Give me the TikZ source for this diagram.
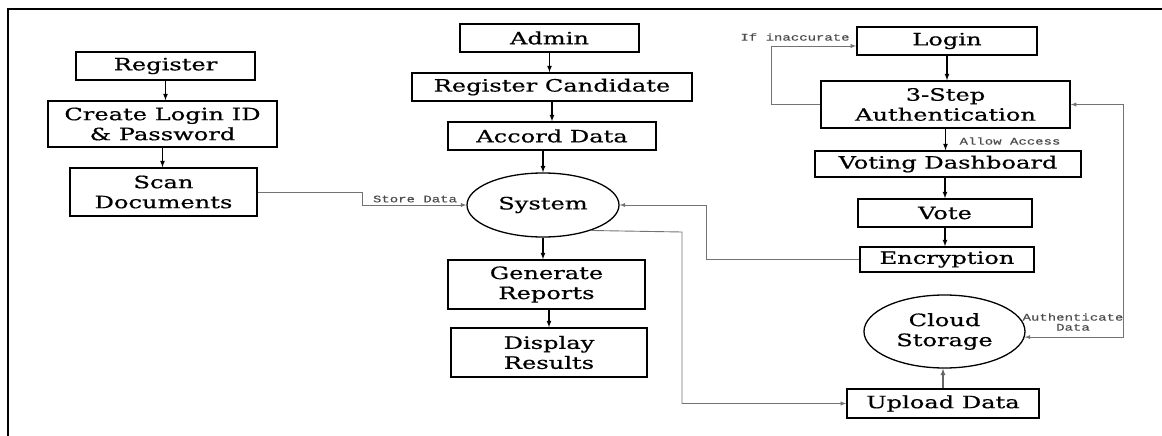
\documentclass[tikz,border=0pt]{standalone}
\usepackage{fontspec}
\setmainfont{DejaVu Serif}[FakeStretch=1.42,FakeBold=0.6]
\setmonofont{Liberation Mono}[FakeStretch=1.4,FakeBold=0.4]
\usetikzlibrary{calc,positioning,arrows,shapes}

\begin{document}
\begin{tikzpicture}[x=1pt,y=-1pt,>=latex,
  blk/.style={draw,line width=1.6pt,align=center,inner sep=0pt,font=\fontsize{17}{20}\selectfont},
  circ/.style={draw,ellipse,line width=1.3pt,align=center,inner sep=0pt,font=\fontsize{17}{20}\selectfont},
  arr/.style={->,line width=1.2pt},
  conn/.style={->,line width=0.9pt,draw=black!55},
  lbl/.style={font=\ttfamily\fontsize{10}{10}\selectfont,text=black!70,inner sep=0pt,align=center}]
  \useasboundingbox (0,0) rectangle (1162,436);
  \draw[line width=1.3pt] (8,436) -- (8,9) -- (1162,9);

  % voter registration
  \node[blk,minimum width=179,minimum height=28] (reg) at (165.5,66) {Register};
  \node[blk,minimum width=229,minimum height=46] (cred) at (162.5,124) {Create Login ID\\\& Password};
  \node[blk,minimum width=187,minimum height=48] (scan) at (163.5,192) {Scan\\Documents};

  % admin side
  \node[blk,minimum width=179,minimum height=28] (admin) at (549.5,38) {Admin};
  \node[blk,minimum width=280,minimum height=28] (regcand) at (552,87) {Register Candidate};
  \node[blk,minimum width=208,minimum height=28] (accord) at (552,136) {Accord Data};
  \node[circ,minimum width=152,minimum height=64] (sys) at (543,205) {System};
  \node[blk,minimum width=197,minimum height=49] (gen) at (546.5,284.5) {Generate\\Reports};
  \node[blk,minimum width=196,minimum height=49] (disp) at (549,352.5) {Display\\Results};

  % voting side
  \node[blk,minimum width=180,minimum height=28] (login) at (947,41) {Login};
  \node[blk,minimum width=249,minimum height=47] (auth) at (945.5,104.5) {3-Step\\Authentication};
  \node[blk,minimum width=266,minimum height=26] (dash) at (948,164) {Voting Dashboard};
  \node[blk,minimum width=174,minimum height=28] (vote) at (945,213) {Vote};
  \node[blk,minimum width=174,minimum height=25] (enc) at (947,259.5) {Encryption};
  \node[circ,minimum width=161,minimum height=73] (cloud) at (944.5,331.5) {Cloud\\Storage};
  \node[blk,minimum width=192,minimum height=29] (upload) at (943,403.5) {Upload Data};

  \draw[arr] (reg) -- (reg |- cred.north);
  \draw[arr] (cred) -- (cred |- scan.north);
  \draw[arr] (admin) -- (admin |- regcand.north);
  \draw[arr] (regcand) -- (regcand |- accord.north);
  \draw[arr] (accord.south -| sys) -- (sys.north);
  \draw[arr] (sys.south) -- (sys.south |- gen.north);
  \draw[arr] (gen.south -| disp) -- (disp.north);
  \draw[arr] (login) -- (login |- auth.north);
  \draw[arr] (auth) -- (auth |- dash.north);
  \draw[arr] (dash.south -| vote) -- (vote.north);
  \draw[arr] (vote) -- (vote |- enc.north);
  \draw[arr,draw=black!60] (upload.north) -- (upload.north |- cloud.south);

  \coordinate (sd) at (362,205);
  \draw[conn] (scan.east) -| (sd) -- (sys.west);
  \node[lbl] (sdl) at (415,199) {Store Data};

  \coordinate (ia) at (771,46);
  \draw[conn] (auth.west) -| (ia) -- (login.west |- ia);
  \node[lbl] (ial) at (795,37) {If inaccurate};
  \node[lbl] (aal) at (1010,141) {Allow Access};

  \coordinate (es) at (706,205);
  \draw[conn] (enc.west) -| (es) -- (sys.east);

  \coordinate (su) at (682,232);
  \draw[conn] (sys.-28) -- (su) |- (upload.west);

  \coordinate (ac) at (1123,104.5);
  \draw[conn,<->] (cloud.-4) -| (ac) -- (auth.east);
  \node[lbl] (adl) at (1073,322) {Authenticate\\Data};
\end{tikzpicture}
\end{document}
